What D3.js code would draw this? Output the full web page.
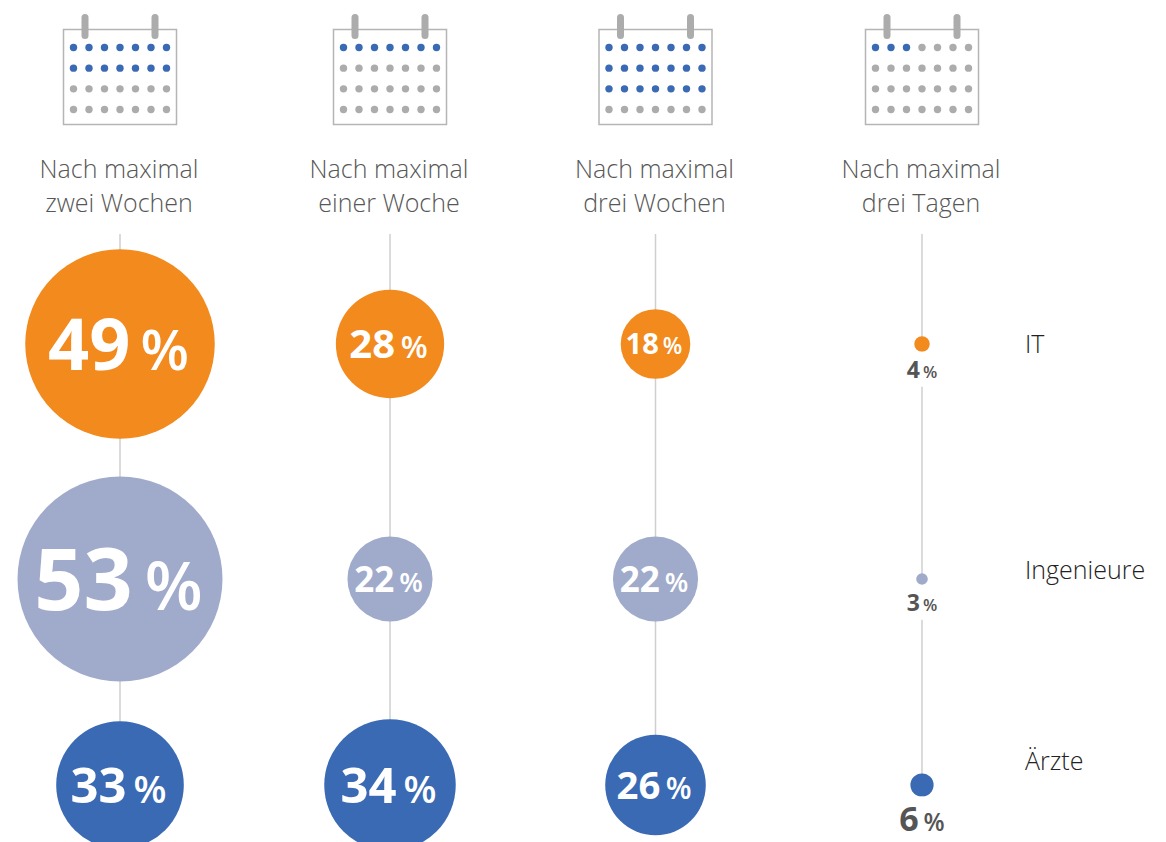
<!DOCTYPE html>
<html>
<head>
<meta charset="utf-8">
<script src="https://cdn.jsdelivr.net/npm/d3@7"></script>
<style>
html, body { margin: 0; background: #fff; overflow: hidden; }
text { font-family: "Open Sans", sans-serif; }
</style>
</head>
<body>
<div id="chart"></div>
<script>
// data
var columns = ["Nach maximal zwei Wochen", "Nach maximal einer Woche", "Nach maximal drei Wochen", "Nach maximal drei Tagen"];
var headLine1 = ["Nach maximal", "Nach maximal", "Nach maximal", "Nach maximal"];
var headLine2 = ["zwei Wochen", "einer Woche", "drei Wochen", "drei Tagen"];
var calendarDays = [14, 7, 21, 3];
var groups = ["IT", "Ingenieure", "Ärzte"];
var itValues = [49, 28, 18, 4];
var ingenieureValues = [53, 22, 22, 3];
var aerzteValues = [33, 34, 26, 6];

var groupValues = [itValues, ingenieureValues, aerzteValues];
var groupColors = ["#f28a1d", "#a0abcb", "#3a6ab3"];
var labelY = [344, 570, 761];

var width = 1166, height = 842;
var svg = d3.select("#chart").append("svg")
	.attr("width", width)
	.attr("height", height)
	.style("display", "block");

var x = d3.scaleOrdinal().domain(columns).range([120, 390, 655.5, 922]);
var y = d3.scaleOrdinal().domain(groups).range([344, 579, 785]);
var r = d3.scaleLinear().domain([0, 53]).range([0, 102.5]);
// number size in the circles does not follow the radius exactly
var fontSize = d3.scaleLinear()
	.domain([3, 4, 6, 18, 22, 28, 33, 34, 49, 53])
	.range([23, 23, 34, 29, 35, 40, 49, 49, 72, 86]);

// calendars
var dotX = d3.scalePoint().domain(d3.range(7)).range([-46.5, 46.5]);
var dotY = d3.scalePoint().domain(d3.range(4)).range([47.5, 109.5]);

columns.forEach(function(c, i){
	var g = svg.append("g").attr("transform", "translate(" + x(c) + ",0)");
	g.append("rect")
		.attr("x", -56.5).attr("y", 29.5).attr("width", 113).attr("height", 95)
		.attr("fill", "#fff").attr("stroke", "#b5b5b5").attr("stroke-width", 1.5);
	g.selectAll("rect.ring")
		.data([-35, 35])
		.enter().append("rect")
			.attr("class", "ring")
			.attr("x", function(d){return d - 3.5;})
			.attr("y", 14).attr("width", 7).attr("height", 25).attr("rx", 3.5)
			.attr("fill", "#acacac");
	g.selectAll("circle")
		.data(d3.range(28))
		.enter().append("circle")
			.attr("cx", function(d){return dotX(d % 7);})
			.attr("cy", function(d){return dotY(Math.floor(d / 7));})
			.attr("r", 3.7)
			.attr("fill", function(d){return d < calendarDays[i] ? "#3a6ab3" : "#acacac";});

	g.append("text").attr("x", -1).attr("y", 178).attr("text-anchor", "middle")
		.attr("font-size", 25).attr("font-weight", 300).attr("fill", "#575757")
		.text(headLine1[i]);
	g.append("text").attr("x", -1).attr("y", 212).attr("text-anchor", "middle")
		.attr("font-size", 25).attr("font-weight", 300).attr("fill", "#575757")
		.text(headLine2[i]);

	// vertical guide, runs off the bottom except for the last column
	svg.append("line")
		.attr("x1", x(c)).attr("x2", x(c))
		.attr("y1", 234).attr("y2", y(groups[2]))
		.attr("stroke", "#cfcfcf").attr("stroke-width", 1.5);
});

// circles and their labels
groups.forEach(function(name, gi){
	var vals = groupValues[gi];
	svg.selectAll("circle.g" + gi)
		.data(vals)
		.enter().append("circle")
			.attr("class", "g" + gi)
			.attr("cx", function(d, i){return x(columns[i]);})
			.attr("cy", y(name))
			.attr("r", function(d){return r(d);})
			.attr("fill", groupColors[gi]);

	vals.forEach(function(v, i){
		var small = v < 10;
		var fs = fontSize(v);
		var cy = y(name);
		// small values sit under the dot, on a white patch that breaks the guide
		var base = small ? cy + r(v) + 10 + fs * 0.72 : cy + fs * 0.36;
		if (small) {
			svg.append("rect")
				.attr("x", x(columns[i]) - 30).attr("y", cy + r(v))
				.attr("width", 60).attr("height", 35)
				.attr("fill", "#fff");
		}
		var t = svg.append("text")
			.attr("x", x(columns[i]) - (small ? 0 : 1.5)).attr("y", base)
			.attr("text-anchor", "middle")
			.attr("fill", small ? "#555" : "#fff");
		t.append("tspan").attr("font-size", fs).attr("font-weight", 700).text(v);
		t.append("tspan").attr("font-size", fs * (small ? 0.72 : 0.78)).attr("font-weight", 600).attr("dx", fs * 0.14).text("%");
	});

	svg.append("text")
		.attr("x", 1025).attr("y", labelY[gi] + 9)
		.attr("font-size", 25).attr("font-weight", 300).attr("fill", "#222")
		.text(name);
});
</script>
</body>
</html>
